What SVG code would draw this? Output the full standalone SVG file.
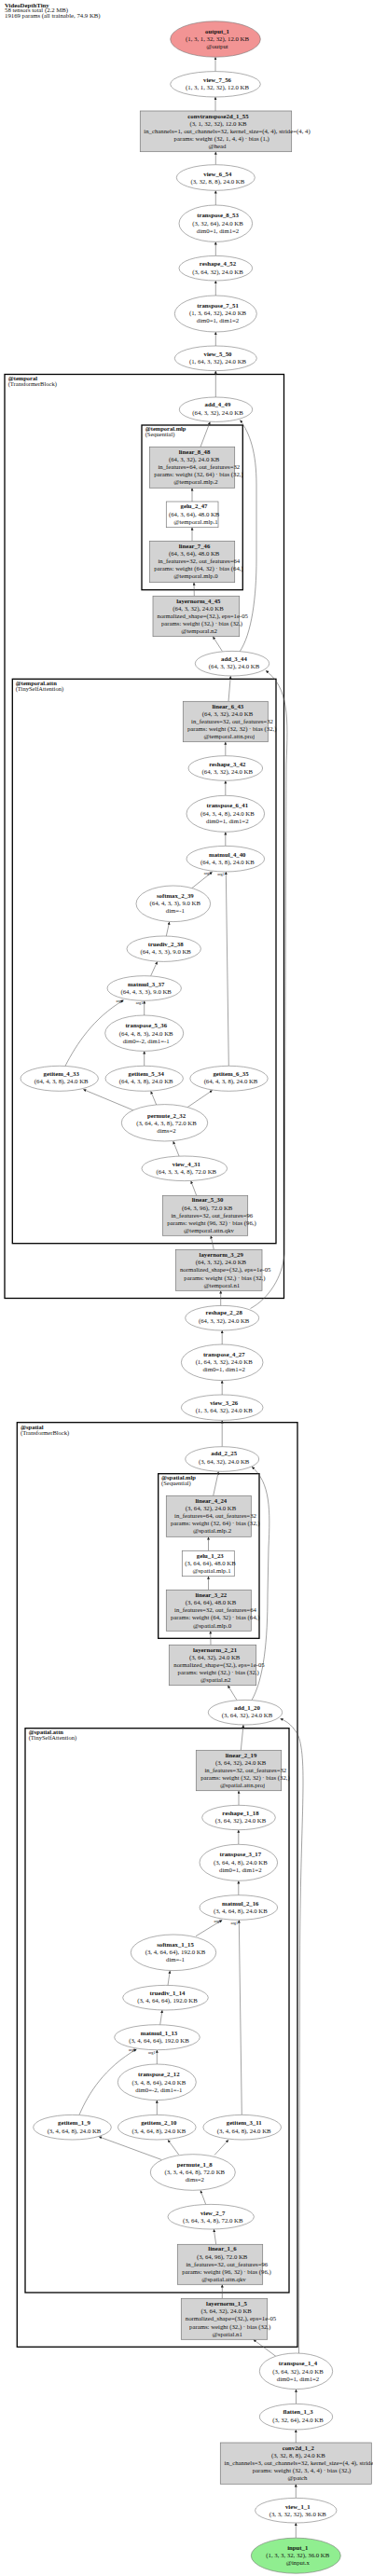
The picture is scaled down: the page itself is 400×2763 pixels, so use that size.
<svg xmlns="http://www.w3.org/2000/svg" width="400" height="2763" viewBox="0 0 400 2763">
<style>
text{font-family:"Liberation Serif","Times New Roman",serif;font-size:6.75px;text-anchor:middle;fill:#111}
.b{font-weight:bold}
.s{text-anchor:start}
.cl text{font-size:6.5px;text-anchor:start}
.el{fill:#fff;stroke:#777;stroke-width:0.6}
.bx{fill:#d3d3d3;stroke:#777;stroke-width:0.7}
.wb{fill:#fff;stroke:#777;stroke-width:0.7}
.cl rect{fill:none;stroke:#000;stroke-width:1.3}
.e path{fill:none;stroke:#555;stroke-width:0.55;marker-end:url(#a)}
.e text{font-size:4.3px}
</style>
<defs>
<marker id="a" viewBox="0 0 10 10" refX="10" refY="5" markerWidth="3.4" markerHeight="3" markerUnits="userSpaceOnUse" orient="auto"><path d="M0,0 L10,5 L0,10 z" fill="#222"/></marker>
</defs>
<rect width="400" height="2763" fill="#fff"/>
<g id="title">
<text class="b s" x="5" y="7.6">VideoDepthTiny</text>
<text class="s" x="5" y="13.4">58 tensors total (2.2 MB)</text>
<text class="s" x="5" y="19.3">19169 params (all trainable, 74.9 KB)</text>
</g>
<g id="clusters" class="cl">
<g id="c_temporal"><rect x="5" y="401.5" width="299.5" height="991"/><text class="b" x="8.7" y="408">@temporal</text><text x="8.7" y="414">(TransformerBlock)</text></g>
<g id="c_temporal_mlp"><rect x="152" y="456" width="108.3" height="176.7"/><text class="b" x="155.7" y="462.3">@temporal.mlp</text><text x="155.7" y="468">(Sequential)</text></g>
<g id="c_temporal_attn"><rect x="13.3" y="728.3" width="282.7" height="605.4"/><text class="b" x="16.7" y="735">@temporal.attn</text><text x="16.7" y="740.6">(TinySelfAttention)</text></g>
<g id="c_spatial"><rect x="18.3" y="1525.7" width="300.7" height="991.6"/><text class="b" x="22" y="1533">@spatial</text><text x="22" y="1538.6">(TransformerBlock)</text></g>
<g id="c_spatial_mlp"><rect x="169.7" y="1580.7" width="108.3" height="176.6"/><text class="b" x="173" y="1587">@spatial.mlp</text><text x="173" y="1593">(Sequential)</text></g>
<g id="c_spatial_attn"><rect x="27" y="1853.7" width="283" height="605.3"/><text class="b" x="30.7" y="1860">@spatial.attn</text><text x="30.7" y="1866">(TinySelfAttention)</text></g>
</g>
<g id="edges" class="e">
<path d="M231,76.6 L231,61.2"/>
<path d="M231,119 L231,104.1"/>
<path d="M231.3,176.7 L231.3,162.8"/>
<path d="M231.3,220 L231.3,204.4"/>
<path d="M231.3,274.4 L231.3,259.4"/>
<path d="M231.3,317 L231.3,301.1"/>
<path d="M231.3,371 L231.3,356.1"/>
<path d="M231.3,426 L231.3,397.7"/>
<path d="M215,479.3 L225.3,452.4"/>
<path d="M206,538 L206,523.4"/>
<path d="M206,580.3 L206,565.8"/>
<path d="M208.3,639.3 L208,624.8"/>
<path d="M238.3,698.4 L228.3,682.8"/>
<path d="M257,699 C270,680 275,640 275,600 L275,520 C275,485 268,465 257.5,450.5"/>
<path d="M245,752.3 L247.3,725.1"/>
<path d="M241.8,810.7 L241.8,795.8"/>
<path d="M241.8,853.3 L241.8,837.4"/>
<path d="M241.8,907.4 L241.8,892.4"/>
<path d="M205.7,952.7 L227.7,935.2"/>
<path d="M245.3,1143.3 L242.3,935.1"/>
<path d="M178.3,1004 L181.7,988.7"/>
<path d="M161.7,1046.7 L168.7,1031.4"/>
<path d="M154.7,1089 L154.7,1073.4"/>
<path d="M70,1143.3 C82,1120 100,1092 132.5,1072.8"/>
<path d="M154.7,1143.3 L154.7,1127.5"/>
<path d="M145,1191.7 L89.3,1168.5"/>
<path d="M167.7,1185 L161.7,1170.4"/>
<path d="M201,1187.7 L227.7,1169.5"/>
<path d="M192,1240 L185.7,1224.1"/>
<path d="M210.7,1282.3 L204.7,1266.7"/>
<path d="M229.3,1340.3 L226,1325.4"/>
<path d="M236.7,1400.5 L236.7,1384.4"/>
<path d="M268.5,1403.5 C288,1393 303,1370 305,1345 L307,820 C309,770 310,738 285,719.3"/>
<path d="M238.2,1442 L238.2,1427.1"/>
<path d="M238.2,1496 L238.2,1480.7"/>
<path d="M238.2,1551.7 L238.2,1523.4"/>
<path d="M228.7,1604.3 L234.3,1578.4"/>
<path d="M223.5,1663.3 L223.5,1648.4"/>
<path d="M223.5,1705.3 L223.5,1690.8"/>
<path d="M226,1764.3 L225.7,1749.4"/>
<path d="M254,1823.5 L244.3,1807.8"/>
<path d="M270,1823.6 C283,1800 287,1760 287,1710 L288,1660 C290,1620 290,1590 270,1573.3"/>
<path d="M258.3,1877.3 L261,1850.1"/>
<path d="M256,1936.3 L256,1920.8"/>
<path d="M255.8,1978.3 L255.8,1962.8"/>
<path d="M255.8,2032.7 L255.8,2017.4"/>
<path d="M210,2076.7 L238.3,2059.4"/>
<path d="M259.3,2268.4 L256.3,2059.4"/>
<path d="M180,2129.4 L182.3,2113.7"/>
<path d="M171.7,2171.7 L174,2156.1"/>
<path d="M168.3,2214 L168.3,2198.8"/>
<path d="M85,2268.4 C95,2245 112,2218 146.5,2197.9"/>
<path d="M168.3,2268.4 L168.3,2252.7"/>
<path d="M173.3,2316.5 L106,2291.8"/>
<path d="M191.7,2311 L180,2295.2"/>
<path d="M230,2311.5 L245,2295.2"/>
<path d="M220.7,2364.4 L215,2349.4"/>
<path d="M231.7,2407.3 L229.3,2391.1"/>
<path d="M238.3,2465.3 L238.3,2450.4"/>
<path d="M296,2527.5 L271.7,2509.4"/>
<path d="M320.5,2524 L321.5,2100 C322,1950 330,1890 320,1862 C315,1852 308,1846 300.5,1843.5"/>
<path d="M317.5,2578.4 L317.5,2562.7"/>
<path d="M317.3,2620 L317.3,2606.1"/>
<path d="M317.3,2679.4 L317.3,2664.4"/>
<path d="M317.3,2722.2 L317.3,2706.1"/>
<text x="222.5" y="937.6">arg0</text><text x="237" y="938.9">arg1</text>
<text x="128.3" y="1074.9">arg0</text><text x="149.5" y="1077.3">arg1</text>
<text x="233.3" y="2061.9">arg0</text><text x="251.3" y="2063.6">arg1</text>
<text x="141.7" y="2200.3">arg0</text><text x="162.8" y="2202.6">arg1</text>
</g>
<g id="output_1"><ellipse cx="231" cy="42" rx="48.3" ry="19.2" fill="#f29494" stroke="#777" stroke-width="0.6"/><text class="b" x="233" y="36">output_1</text><text x="233" y="44.3">(1, 3, 1, 32, 32), 12.0 KB</text><text x="233" y="52.3">@output</text></g>
<g id="view_7_56"><ellipse class="el" cx="231" cy="90.3" rx="48.3" ry="13.7"/><text class="b" x="233" y="88">view_7_56</text><text x="233" y="96">(1, 3, 1, 32, 32), 12.0 KB</text></g>
<g id="convtranspose2d_1_55"><rect class="bx" x="150.3" y="119" width="162.4" height="43.7"/><text class="b" x="234" y="126.6">convtranspose2d_1_55</text><text x="234" y="134.6">(3, 1, 32, 32), 12.0 KB</text><text x="243.5" y="142.6">in_channels=1, out_channels=32, kernel_size=(4, 4), stride=(4, 4)</text><text x="237.7" y="151">params: weight (32, 1, 4, 4) · bias (1,)</text><text x="233" y="159">@head</text></g>
<g id="view_6_54"><ellipse class="el" cx="231.3" cy="190.5" rx="42" ry="13.8"/><text class="b" x="233.3" y="189">view_6_54</text><text x="233.3" y="197">(3, 32, 8, 8), 24.0 KB</text></g>
<g id="transpose_8_53"><ellipse class="el" cx="231.3" cy="239.7" rx="39.3" ry="19.7"/><text class="b" x="233.5" y="233.3">transpose_8_53</text><text x="233.5" y="241.6">(3, 32, 64), 24.0 KB</text><text x="233.5" y="249.6">dim0=1, dim1=2</text></g>
<g id="reshape_4_52"><ellipse class="el" cx="231.3" cy="287.7" rx="39.3" ry="13.3"/><text class="b" x="233.5" y="285.3">reshape_4_52</text><text x="233.5" y="293.6">(3, 64, 32), 24.0 KB</text></g>
<g id="transpose_7_51"><ellipse class="el" cx="231.3" cy="336.5" rx="44" ry="19.5"/><text class="b" x="233.5" y="330">transpose_7_51</text><text x="233.5" y="338.3">(1, 3, 64, 32), 24.0 KB</text><text x="233.5" y="346.3">dim0=1, dim1=2</text></g>
<g id="view_5_50"><ellipse class="el" cx="231.3" cy="384.3" rx="44" ry="13.3"/><text class="b" x="233.5" y="382">view_5_50</text><text x="233.5" y="390.3">(1, 64, 3, 32), 24.0 KB</text></g>
<g id="add_4_49"><ellipse class="el" cx="231.5" cy="439.2" rx="39.2" ry="13.2"/><text class="b" x="233.5" y="436.3">add_4_49</text><text x="233.5" y="444.6">(64, 3, 32), 24.0 KB</text></g>
<g id="linear_8_48"><rect class="bx" x="160.3" y="479.3" width="91.4" height="44"/><text class="b" x="208.5" y="487">linear_8_48</text><text x="208.2" y="495.3">(64, 3, 32), 24.0 KB</text><text x="213.3" y="503.3">in_features=64, out_features=32</text><text x="213" y="511.3">params: weight (32, 64) · bias (32,)</text><text x="210" y="519.3">@temporal.mlp.2</text></g>
<g id="gelu_2_47"><rect class="wb" x="178.3" y="538" width="55.7" height="27.7"/><text class="b" x="208" y="545.3">gelu_2_47</text><text x="208.2" y="553.6">(64, 3, 64), 48.0 KB</text><text x="210" y="561.6">@temporal.mlp.1</text></g>
<g id="linear_7_46"><rect class="bx" x="160.3" y="580.3" width="91.4" height="44.4"/><text class="b" x="208.5" y="588">linear_7_46</text><text x="208.2" y="596.3">(64, 3, 64), 48.0 KB</text><text x="213.3" y="604.3">in_features=32, out_features=64</text><text x="213" y="612.3">params: weight (64, 32) · bias (64,)</text><text x="210" y="620.3">@temporal.mlp.0</text></g>
<g id="layernorm_4_45"><rect class="bx" x="164" y="639.3" width="92.7" height="43.4"/><text class="b" x="212.8" y="646.6">layernorm_4_45</text><text x="212.5" y="655">(64, 3, 32), 24.0 KB</text><text x="217.3" y="663">normalized_shape=(32,), eps=1e-05</text><text x="216.5" y="671.3">params: weight (32,) · bias (32,)</text><text x="213.5" y="679.3">@temporal.n2</text></g>
<g id="add_3_44"><ellipse class="el" cx="249" cy="711.7" rx="39.7" ry="13.3"/><text class="b" x="251" y="709.3">add_3_44</text><text x="251" y="717.3">(64, 3, 32), 24.0 KB</text></g>
<g id="linear_6_43"><rect class="bx" x="196.3" y="752.3" width="91" height="43.4"/><text class="b" x="244.3" y="759.6">linear_6_43</text><text x="244" y="768">(64, 3, 32), 24.0 KB</text><text x="249" y="776">in_features=32, out_features=32</text><text x="248.7" y="784">params: weight (32, 32) · bias (32,)</text><text x="245.8" y="792">@temporal.attn.proj</text></g>
<g id="reshape_3_42"><ellipse class="el" cx="241.8" cy="824" rx="39.8" ry="13.3"/><text class="b" x="243.8" y="822">reshape_3_42</text><text x="243.8" y="830.3">(64, 3, 32), 24.0 KB</text></g>
<g id="transpose_6_41"><ellipse class="el" cx="241.8" cy="872.8" rx="41.8" ry="19.5"/><text class="b" x="243.8" y="866.3">transpose_6_41</text><text x="243.8" y="874.6">(64, 3, 4, 8), 24.0 KB</text><text x="243.8" y="883">dim0=1, dim1=2</text></g>
<g id="matmul_4_40"><ellipse class="el" cx="241.8" cy="921.2" rx="41.8" ry="13.8"/><text class="b" x="243.8" y="919">matmul_4_40</text><text x="243.8" y="927">(64, 4, 3, 8), 24.0 KB</text></g>
<g id="softmax_2_39"><ellipse class="el" cx="185.8" cy="969.3" rx="39.8" ry="19.3"/><text class="b" x="187.8" y="963">softmax_2_39</text><text x="187.8" y="971.3">(64, 4, 3, 3), 9.0 KB</text><text x="187.8" y="979.3">dim=-1</text></g>
<g id="truediv_2_38"><ellipse class="el" cx="175.7" cy="1017.7" rx="39.7" ry="13.7"/><text class="b" x="177.7" y="1015">truediv_2_38</text><text x="177.7" y="1023.3">(64, 4, 3, 3), 9.0 KB</text></g>
<g id="matmul_3_37"><ellipse class="el" cx="154.7" cy="1060" rx="39.7" ry="13.3"/><text class="b" x="156.7" y="1057.6">matmul_3_37</text><text x="156.7" y="1066">(64, 4, 3, 3), 9.0 KB</text></g>
<g id="transpose_5_36"><ellipse class="el" cx="154.7" cy="1108.2" rx="42" ry="19.2"/><text class="b" x="156.7" y="1102.3">transpose_5_36</text><text x="156.7" y="1110.6">(64, 4, 8, 3), 24.0 KB</text><text x="156.7" y="1118.6">dim0=-2, dim1=-1</text></g>
<g id="getitem_4_33"><ellipse class="el" cx="63.7" cy="1156.8" rx="41.7" ry="13.5"/><text class="b" x="65.7" y="1154">getitem_4_33</text><text x="65.7" y="1162.3">(64, 4, 3, 8), 24.0 KB</text></g>
<g id="getitem_5_34"><ellipse class="el" cx="154.7" cy="1156.8" rx="41.7" ry="13.5"/><text class="b" x="156.7" y="1154">getitem_5_34</text><text x="156.7" y="1162.3">(64, 4, 3, 8), 24.0 KB</text></g>
<g id="getitem_6_35"><ellipse class="el" cx="245.5" cy="1156.8" rx="41.7" ry="13.5"/><text class="b" x="247.5" y="1154">getitem_6_35</text><text x="247.5" y="1162.3">(64, 4, 3, 8), 24.0 KB</text></g>
<g id="permute_2_32"><ellipse class="el" cx="176.5" cy="1204.3" rx="46.2" ry="19.7"/><text class="b" x="178.5" y="1199">permute_2_32</text><text x="178.5" y="1207">(3, 64, 4, 3, 8), 72.0 KB</text><text x="178.5" y="1215">dims=2</text></g>
<g id="view_4_31"><ellipse class="el" cx="197.8" cy="1253.3" rx="45.8" ry="13.3"/><text class="b" x="199.8" y="1251">view_4_31</text><text x="199.8" y="1259">(64, 3, 3, 4, 8), 72.0 KB</text></g>
<g id="linear_5_30"><rect class="bx" x="174.3" y="1282.3" width="91.4" height="43"/><text class="b" x="222.5" y="1289.3">linear_5_30</text><text x="222.2" y="1297.6">(64, 3, 96), 72.0 KB</text><text x="227.3" y="1306">in_features=32, out_features=96</text><text x="227" y="1314">params: weight (96, 32) · bias (96,)</text><text x="224" y="1322">@temporal.attn.qkv</text></g>
<g id="layernorm_3_29"><rect class="bx" x="188.3" y="1340.3" width="92.7" height="44"/><text class="b" x="237.2" y="1348">layernorm_3_29</text><text x="236.9" y="1356.3">(64, 3, 32), 24.0 KB</text><text x="241.7" y="1364.3">normalized_shape=(32,), eps=1e-05</text><text x="240.9" y="1372.6">params: weight (32,) · bias (32,)</text><text x="237.9" y="1380.6">@temporal.n1</text></g>
<g id="reshape_2_28"><ellipse class="el" cx="238.2" cy="1413.7" rx="39.5" ry="13.3"/><text class="b" x="240.2" y="1410.3">reshape_2_28</text><text x="240.2" y="1418.6">(64, 3, 32), 24.0 KB</text></g>
<g id="transpose_4_27"><ellipse class="el" cx="238.2" cy="1461.3" rx="43.8" ry="19.3"/><text class="b" x="240.2" y="1455">transpose_4_27</text><text x="240.2" y="1463.3">(1, 64, 3, 32), 24.0 KB</text><text x="240.2" y="1471.3">dim0=1, dim1=2</text></g>
<g id="view_3_26"><ellipse class="el" cx="238.2" cy="1509.7" rx="43.8" ry="13.7"/><text class="b" x="240.2" y="1507">view_3_26</text><text x="240.2" y="1515.3">(1, 3, 64, 32), 24.0 KB</text></g>
<g id="add_2_25"><ellipse class="el" cx="238.2" cy="1565" rx="39.5" ry="13.3"/><text class="b" x="240.2" y="1561.3">add_2_25</text><text x="240.2" y="1569.6">(3, 64, 32), 24.0 KB</text></g>
<g id="linear_4_24"><rect class="bx" x="178.3" y="1604.3" width="91" height="44"/><text class="b" x="226.3" y="1612">linear_4_24</text><text x="226" y="1620">(3, 64, 32), 24.0 KB</text><text x="231" y="1628.3">in_features=64, out_features=32</text><text x="230.7" y="1636.3">params: weight (32, 64) · bias (32,)</text><text x="227.5" y="1644.3">@spatial.mlp.2</text></g>
<g id="gelu_1_23"><rect class="wb" x="195.3" y="1663.3" width="56" height="27.4"/><text class="b" x="225.3" y="1670.6">gelu_1_23</text><text x="225.5" y="1678.6">(3, 64, 64), 48.0 KB</text><text x="227" y="1686.6">@spatial.mlp.1</text></g>
<g id="linear_3_22"><rect class="bx" x="178.3" y="1705.3" width="91" height="44"/><text class="b" x="226.3" y="1713">linear_3_22</text><text x="226" y="1721.3">(3, 64, 64), 48.0 KB</text><text x="231" y="1729.3">in_features=32, out_features=64</text><text x="230.7" y="1737.3">params: weight (64, 32) · bias (64,)</text><text x="227.5" y="1745.6">@spatial.mlp.0</text></g>
<g id="layernorm_2_21"><rect class="bx" x="181.3" y="1764.3" width="93.4" height="43.4"/><text class="b" x="230.5" y="1772">layernorm_2_21</text><text x="230.2" y="1780">(3, 64, 32), 24.0 KB</text><text x="235" y="1788">normalized_shape=(32,), eps=1e-05</text><text x="234.2" y="1796">params: weight (32,) · bias (32,)</text><text x="231.2" y="1804">@spatial.n2</text></g>
<g id="add_1_20"><ellipse class="el" cx="263" cy="1836.7" rx="39.7" ry="13.3"/><text class="b" x="265" y="1834">add_1_20</text><text x="265" y="1842.3">(3, 64, 32), 24.0 KB</text></g>
<g id="linear_2_19"><rect class="bx" x="210.3" y="1877.3" width="91.4" height="43.4"/><text class="b" x="258.5" y="1884.6">linear_2_19</text><text x="258.2" y="1893">(3, 64, 32), 24.0 KB</text><text x="263.3" y="1901">in_features=32, out_features=32</text><text x="263" y="1909">params: weight (32, 32) · bias (32,)</text><text x="260" y="1917">@spatial.attn.proj</text></g>
<g id="reshape_1_18"><ellipse class="el" cx="256" cy="1949.5" rx="39.3" ry="13.2"/><text class="b" x="258" y="1947">reshape_1_18</text><text x="258" y="1955.3">(3, 64, 32), 24.0 KB</text></g>
<g id="transpose_3_17"><ellipse class="el" cx="255.8" cy="1997.8" rx="41.8" ry="19.5"/><text class="b" x="257.8" y="1991.3">transpose_3_17</text><text x="257.8" y="1999.6">(3, 64, 4, 8), 24.0 KB</text><text x="257.8" y="2008">dim0=1, dim1=2</text></g>
<g id="matmul_2_16"><ellipse class="el" cx="255.8" cy="2046" rx="41.8" ry="13.3"/><text class="b" x="257.8" y="2043.6">matmul_2_16</text><text x="257.8" y="2052">(3, 4, 64, 8), 24.0 KB</text></g>
<g id="softmax_1_15"><ellipse class="el" cx="186" cy="2094.3" rx="45.7" ry="19.3"/><text class="b" x="188" y="2088">softmax_1_15</text><text x="188" y="2096.3">(3, 4, 64, 64), 192.0 KB</text><text x="188" y="2104.3">dim=-1</text></g>
<g id="truediv_1_14"><ellipse class="el" cx="177.5" cy="2142.7" rx="45.8" ry="13.3"/><text class="b" x="179.5" y="2140">truediv_1_14</text><text x="179.5" y="2148.3">(3, 4, 64, 64), 192.0 KB</text></g>
<g id="matmul_1_13"><ellipse class="el" cx="168.5" cy="2185.2" rx="45.8" ry="13.5"/><text class="b" x="170.5" y="2182.6">matmul_1_13</text><text x="170.5" y="2191">(3, 4, 64, 64), 192.0 KB</text></g>
<g id="transpose_2_12"><ellipse class="el" cx="168.3" cy="2233.3" rx="42" ry="19.3"/><text class="b" x="170.3" y="2227">transpose_2_12</text><text x="170.3" y="2235.6">(3, 4, 8, 64), 24.0 KB</text><text x="170.3" y="2243.6">dim0=-2, dim1=-1</text></g>
<g id="getitem_1_9"><ellipse class="el" cx="77.5" cy="2281.7" rx="41.8" ry="13.3"/><text class="b" x="79.5" y="2279.3">getitem_1_9</text><text x="79.5" y="2287.6">(3, 4, 64, 8), 24.0 KB</text></g>
<g id="getitem_2_10"><ellipse class="el" cx="168.3" cy="2281.7" rx="41.8" ry="13.3"/><text class="b" x="170.3" y="2279.3">getitem_2_10</text><text x="170.3" y="2287.6">(3, 4, 64, 8), 24.0 KB</text></g>
<g id="getitem_3_11"><ellipse class="el" cx="259.7" cy="2281.7" rx="41.8" ry="13.3"/><text class="b" x="261.7" y="2279.3">getitem_3_11</text><text x="261.7" y="2287.6">(3, 4, 64, 8), 24.0 KB</text></g>
<g id="permute_1_8"><ellipse class="el" cx="206.8" cy="2330" rx="45.5" ry="19.3"/><text class="b" x="208.8" y="2323.6">permute_1_8</text><text x="208.8" y="2331.6">(3, 3, 4, 64, 8), 72.0 KB</text><text x="208.8" y="2340">dims=2</text></g>
<g id="view_2_7"><ellipse class="el" cx="226.2" cy="2377.7" rx="46.2" ry="13.3"/><text class="b" x="228.2" y="2375.6">view_2_7</text><text x="228.2" y="2384">(3, 64, 3, 4, 8), 72.0 KB</text></g>
<g id="linear_1_6"><rect class="bx" x="190.3" y="2407.3" width="91.4" height="43"/><text class="b" x="238.5" y="2414.3">linear_1_6</text><text x="238.2" y="2422.6">(3, 64, 96), 72.0 KB</text><text x="243.3" y="2430.6">in_features=32, out_features=96</text><text x="243" y="2439">params: weight (96, 32) · bias (96,)</text><text x="240" y="2447">@spatial.attn.qkv</text></g>
<g id="layernorm_1_5"><rect class="bx" x="194.3" y="2465.3" width="92.4" height="44"/><text class="b" x="243" y="2473">layernorm_1_5</text><text x="242.7" y="2481.3">(3, 64, 32), 24.0 KB</text><text x="247.5" y="2489.3">normalized_shape=(32,), eps=1e-05</text><text x="246.7" y="2497.6">params: weight (32,) · bias (32,)</text><text x="243.7" y="2505.6">@spatial.n1</text></g>
<g id="transpose_1_4"><ellipse class="el" cx="317.5" cy="2543.3" rx="39.2" ry="19.3"/><text class="b" x="319.5" y="2537.3">transpose_1_4</text><text x="319.5" y="2545.6">(3, 64, 32), 24.0 KB</text><text x="319.5" y="2553.6">dim0=1, dim1=2</text></g>
<g id="flatten_1_3"><ellipse class="el" cx="317.5" cy="2592.2" rx="39.2" ry="13.8"/><text class="b" x="319.5" y="2589.3">flatten_1_3</text><text x="319.5" y="2597.6">(3, 32, 64), 24.0 KB</text></g>
<g id="conv2d_1_2"><rect class="bx" x="236.3" y="2620" width="162" height="44.3"/><text class="b" x="319.8" y="2628">conv2d_1_2</text><text x="319.8" y="2636.3">(3, 32, 8, 8), 24.0 KB</text><text x="329.7" y="2644.3">in_channels=3, out_channels=32, kernel_size=(4, 4), stride=(4, 4)</text><text x="323.5" y="2652.3">params: weight (32, 3, 4, 4) · bias (32,)</text><text x="319" y="2660.3">@patch</text></g>
<g id="view_1_1"><ellipse class="el" cx="317.3" cy="2692.7" rx="43.7" ry="13.3"/><text class="b" x="319.3" y="2690.6">view_1_1</text><text x="319.3" y="2699">(3, 3, 32, 32), 36.0 KB</text></g>
<g id="input_1"><ellipse cx="317.3" cy="2741.2" rx="48" ry="19" fill="#90ee90" stroke="#777" stroke-width="0.6"/><text class="b" x="319.3" y="2735">input_1</text><text x="319.3" y="2743.3">(1, 3, 3, 32, 32), 36.0 KB</text><text x="319.3" y="2751.3">@input.x</text></g>
</svg>
